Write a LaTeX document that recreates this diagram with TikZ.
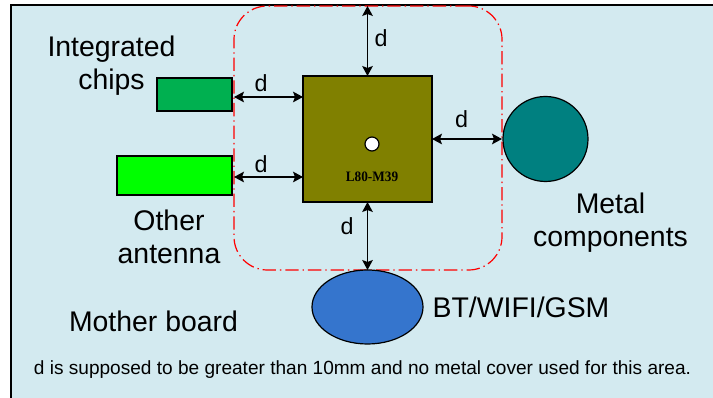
\documentclass[tikz,border=0pt]{standalone}
\usepackage{fontspec}
\setmainfont{Liberation Sans}
\newfontfamily\moduleFont{Liberation Serif}
\usepackage{tikz}
\usetikzlibrary{arrows.meta}
\usetikzlibrary{shapes.geometric}
\definecolor{boardBlue}{RGB}{211,234,240}
\definecolor{chipGreen}{RGB}{0,176,80}
\definecolor{antennaGreen}{RGB}{0,255,0}
\definecolor{moduleOlive}{RGB}{128,128,0}
\definecolor{metalTeal}{RGB}{0,128,128}
\definecolor{radioBlue}{RGB}{53,117,205}
\newcommand{\bigFont}{\fontsize{21.3}{24.8}\selectfont}
\newcommand{\gapFont}{\fontsize{17.5}{20}\selectfont}
\newcommand{\noteFont}{\fontsize{14.3}{16}\selectfont}
\newcommand{\clearance}[4]{%%
  %% A clearance arrow with its label.
  \draw[gapStyle] (#1) -- (#2);
  \node[gapLabelStyle] (#3) at (#4) {d};
}

\begin{document}
\begin{tikzpicture}[%%
  x=0.75pt,y=-0.75pt,%%
  boardStyle/.style={fill=boardBlue,draw=black,line width=1pt},%%
  zoneStyle/.style={draw=red,line width=0.9pt,rounded corners=25pt,dash pattern=on 10pt off 3pt on 1pt off 3pt,inner sep=0pt,outer sep=0pt},%%
  partStyle/.style={draw=black,line width=0.9pt,inner sep=0pt,outer sep=0pt},%%
  gapStyle/.style={{Stealth[length=7.5pt,width=8pt,inset=1.5pt]}-{Stealth[length=7.5pt,width=8pt,inset=1.5pt]},line width=0.9pt},%%
  gapLabelStyle/.style={font=\gapFont,anchor=base,inner sep=0pt},%%
  textStyle/.style={font=\bigFont,inner sep=0pt},%%
  noteStyle/.style={font=\noteFont,anchor=base,inner sep=0pt}%%
]
%%
%%
\useasboundingbox (0,0) rectangle (713,398);
\clip (0,0) rectangle (713,398);
%% The mother board.
\draw[boardStyle] (11,5) rectangle (724,410);
%% The keep-out zone round the module.
\node[zoneStyle,minimum width=201pt,minimum height=198pt] (zone) at (368,138) {};
%% The module.
\node[partStyle,fill=moduleOlive,minimum width=96.75pt,minimum height=94.5pt] (module) at (367.5,139) {};
\node[partStyle,circle,fill=white,minimum size=10.5pt] (pinOne) at (372,144) {};
\node[font=\moduleFont\bfseries\fontsize{10.8}{12}\selectfont,anchor=base,inner sep=0pt,xscale=0.92] (moduleName) at (372,182) {L80-M39};
%% The neighbouring parts.
\node[partStyle,fill=chipGreen,minimum width=56.25pt,minimum height=24.75pt] (chips) at (194.5,94.5) {};
\node[partStyle,fill=antennaGreen,minimum width=86.25pt,minimum height=29.25pt] (antenna) at (174.5,175.5) {};
\node[partStyle,circle,fill=metalTeal,minimum size=63.75pt] (metal) at (545.5,139) {};
\node[partStyle,ellipse,fill=radioBlue,minimum width=83.25pt,minimum height=55.5pt] (radio) at (367.5,307) {};
%% The clearances.
\coordinate (chipsGap) at (234,97);
\coordinate (antennaGap) at (234,177);
\clearance{module.north |- zone.north}{module.north}{topD}{381,47}
\clearance{chipsGap}{chipsGap -| module.west}{chipsD}{261,92}
\clearance{antennaGap}{antennaGap -| module.west}{antennaD}{261,173}
\clearance{module.east}{zone.east |- module.east}{metalD}{461.5,128}
\clearance{module.south}{module.south |- zone.south}{radioD}{347,235}
%% The texts.
\node[textStyle,align=center] (chipsText) at (111.5,65.5) {Integrated\\chips};
\node[textStyle,align=center] (antennaText) at (169,236.5) {Other\\antenna};
\node[textStyle,align=center] (metalText) at (610.5,223) {Metal\\components};
\node[textStyle,anchor=base] (radioText) at (521,318) {BT/WIFI/GSM};
\node[textStyle,anchor=base] (boardText) at (153.5,332) {Mother board};
\node[noteStyle] (noteText) at (362.5,375) {d is supposed to be greater than 10mm and no metal cover used for this area.};
\end{tikzpicture}
\end{document}
